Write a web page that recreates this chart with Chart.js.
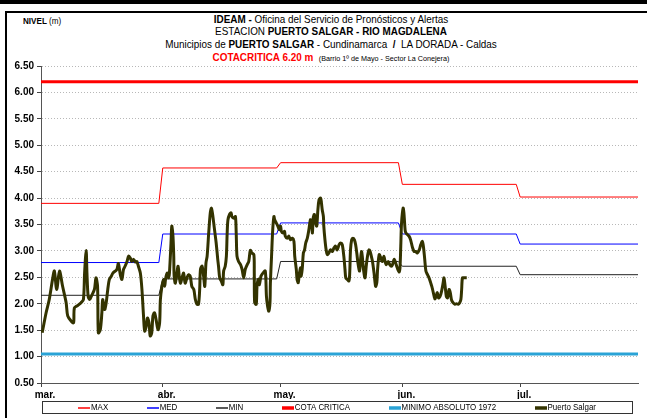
<!DOCTYPE html>
<html>
<head>
<meta charset="utf-8">
<script src="https://cdn.jsdelivr.net/npm/chart.js@4.4.1/dist/chart.umd.min.js"></script>
<style>
  body { margin: 0; background: #fff; }
  #wrap { position: relative; width: 647px; height: 418px; overflow: hidden; font-family: "Liberation Sans", Arial, sans-serif; }
  #topbar { position: absolute; left: 0; top: 0; width: 647px; height: 4px; background: #000; }
  #frame { position: absolute; left: 5px; top: 11px; width: 660px; height: 430px; border-left: 2px solid #000; border-top: 2px solid #000; }
  .t { position: absolute; left: 0; width: 662px; text-align: center; font-size: 11px; line-height: 12px; color: #000; white-space: nowrap; transform: scaleX(0.9); }
  #nivel { position: absolute; left: 23px; top: 16px; font-size: 9px; line-height: 10px; transform: scaleX(0.9); transform-origin: 0 0; }
  canvas { position: absolute; left: 0; top: 0; }
</style>
</head>
<body>
<div id="wrap">
  <div id="topbar"></div>
  <div id="frame"></div>
  <div id="nivel"><b>NIVEL</b> (m)</div>
  <div class="t" style="top:13px"><b>IDEAM - </b>Oficina del Servicio de Pronósticos y Alertas</div>
  <div class="t" style="top:25px">ESTACION <b>PUERTO SALGAR - RIO MAGDALENA</b></div>
  <div class="t" style="top:38px">Municipios de <b>PUERTO SALGAR</b> - Cundinamarca &nbsp;<b>/</b>&nbsp; LA DORADA - Caldas</div>
  <div class="t" style="top:51px"><b style="color:#ff0000">COTACRITICA 6.20 m</b> &nbsp;<span style="font-size:8px">(Barrio 1º de Mayo - Sector La Conejera)</span></div>
  <canvas id="chart" width="647" height="418"></canvas>
</div>
<script>
// x axis: days since 1 March
const monthDays = [0, 31, 61, 92, 122];
const monthLabels = ["mar.", "abr.", "may.", "jun.", "jul."];
const axisEnd = 152;
const yTicks = [0.5, 1.0, 1.5, 2.0, 2.5, 3.0, 3.5, 4.0, 4.5, 5.0, 5.5, 6.0, 6.5];

// monthly reference levels (m)
const maxLevels = [3.90, 4.57, 4.67, 4.26, 4.02];
const medLevels = [2.78, 3.32, 3.53, 3.32, 3.13];
const minLevels = [2.16, 2.47, 2.80, 2.71, 2.55];
const cotaCritica = 6.20;
const minimoAbsoluto = 1.05;

// Puerto Salgar readings
const salgarDays = [
  0.3, 1.3, 2.1, 3.0, 3.4, 4.0, 4.7, 5.5, 6.4, 6.8, 7.7, 8.3, 8.5, 9.4, 10.2, 10.8, 11.1, 11.5, 11.7, 12.0,
  12.4, 12.8, 13.6, 14.0, 14.4, 14.6, 15.1, 15.5, 15.7, 16.2, 16.6, 17.0, 17.4, 17.9, 18.3,
  19.3, 19.7, 20.2, 20.6, 21.0, 21.4, 21.9, 22.3, 22.7, 23.1, 23.6, 24.0, 24.4, 24.8, 25.3, 25.7, 26.1, 26.4,
  26.8, 27.1, 27.5, 27.8, 28.2, 28.5, 28.9, 29.3, 29.8, 30.2, 30.4, 30.8, 31.2, 31.5, 31.7, 32.1, 32.5, 32.7,
  33.1, 33.3, 33.6, 33.8, 33.9, 34.2, 34.6, 34.9, 35.2, 35.5, 35.9, 36.3, 36.7, 37.2, 37.6,
  38.0, 38.4, 38.9, 39.3, 39.7, 40.1, 40.4, 40.6, 41.0, 41.4, 41.7, 42.0, 42.3, 42.7, 43.1, 43.4, 43.7, 44.1,
  44.6, 45.0, 45.2, 45.5, 45.9, 46.3, 46.5, 46.9, 47.2, 47.4, 47.6, 48.0, 48.4, 48.6, 49.1, 49.5, 49.7, 49.9,
  50.3, 50.8, 51.2, 51.6, 52.0, 52.5, 52.9, 53.3, 53.7, 54.2, 54.3, 54.4, 54.8, 55.0, 55.3, 55.6, 56.0, 56.5, 57.1,
  57.4, 57.7, 58.0, 58.3, 58.4, 58.7, 59.0, 59.3, 59.5, 59.9, 60.3, 60.7, 61.0, 61.2, 61.6, 62.0, 62.2, 62.7,
  63.1, 63.5, 64.0, 64.4, 64.6, 65.0, 65.2, 65.5, 65.8, 66.1, 66.2, 66.5, 66.8, 67.1, 67.4, 67.8, 68.2, 68.6,
  68.9, 69.1, 69.3, 69.6, 69.9, 70.2, 70.5, 70.8, 71.2, 71.4, 71.6, 71.9, 72.0, 72.3, 72.6, 72.9, 73.3, 73.7,
  74.2, 74.6, 75.0, 75.4, 75.9, 76.3,
  76.7, 77.1, 77.4, 77.6, 78.0, 78.4, 78.6, 78.8, 79.1, 79.4, 79.8, 80.1, 80.4, 80.7, 81.1, 81.4, 81.6, 81.8,
  82.1, 82.5, 82.8, 83.2, 83.5, 83.8, 84.1, 84.4, 84.8, 85.2, 85.5, 85.7, 86.1, 86.5, 86.9, 87.3, 87.6, 87.9,
  88.4, 88.8, 89.2, 89.5, 89.9, 90.3, 90.7, 91.2, 91.4, 91.6, 91.8, 92.2, 92.4, 92.7, 92.9, 93.3, 93.7, 94.1,
  94.6, 95.0,
  95.4, 95.8, 96.3, 96.7, 97.1, 97.4, 97.7, 98.0, 98.4, 98.8, 99.2, 99.5, 99.7, 100.1, 100.3, 100.6, 100.9,
  101.2, 101.6, 102.0, 102.4, 102.6, 102.9, 103.2, 103.5, 103.9, 104.2, 104.5, 104.9, 105.4, 105.8, 106.2,
  106.6, 106.9, 107.1, 107.3, 107.7, 108.4
];
const salgarLevels = [
  1.45, 1.83, 2.08, 2.49, 2.62, 2.27, 2.62, 2.33, 2.02, 1.77, 1.67, 1.64, 1.92, 1.97, 2.02, 2.08, 2.58, 3.01, 2.58, 2.14,
  2.08, 2.14, 2.27, 2.49, 2.33, 1.45, 1.51, 1.83, 2.08, 1.89, 2.02, 2.27, 2.46, 2.52, 2.58,
  2.65, 2.76, 2.55, 2.46, 2.65, 2.71, 2.80, 2.90, 2.87, 2.80, 2.84, 2.79, 2.80, 2.71, 2.58, 2.27, 1.77, 1.48,
  1.58, 1.73, 1.64, 1.39, 1.45, 1.77, 1.83, 1.70, 1.51, 1.64, 2.08, 2.33, 2.46, 2.33, 2.46, 2.58, 2.49, 2.58,
  3.15, 3.47, 3.28, 2.90, 2.52, 2.39, 2.58, 2.71, 2.52, 2.39, 2.49, 2.58, 2.39, 2.50, 2.55,
  2.52, 2.33, 2.27, 2.08, 1.99, 1.99, 2.27, 2.65, 2.71, 2.52, 2.33, 2.77, 2.90, 3.34, 3.72, 3.81, 3.69, 3.45,
  3.15, 2.84, 2.71, 2.49, 2.43, 2.36, 2.62, 2.71, 2.90, 3.34, 3.59, 3.69, 3.72, 3.65, 3.62, 3.65, 3.34, 2.90,
  2.80, 2.74, 2.65, 2.49, 2.65, 2.74, 2.80, 3.01, 2.96, 2.93, 2.58, 2.02, 1.99, 2.33, 2.46, 2.36, 2.52, 2.58, 2.62,
  2.14, 1.95, 1.86, 2.02, 2.39, 2.90, 3.40, 3.65, 3.59, 3.53, 3.47, 3.40, 3.47, 3.37, 3.34, 3.37, 3.28, 3.24,
  3.28, 3.21, 3.24, 3.18, 2.90, 2.65, 2.46, 2.40, 2.58, 2.68, 2.52, 2.65, 2.96, 3.02, 3.15, 3.24, 3.40, 3.59,
  3.53, 3.34, 3.62, 3.69, 3.53, 3.47, 3.78, 3.97, 4.00, 3.91, 3.78, 3.65, 3.47, 3.21, 3.02, 2.93, 2.96, 3.02,
  2.99, 3.06, 3.09, 3.02, 3.12, 3.15,
  3.12, 2.90, 2.65, 2.49, 2.46, 2.43, 2.58, 3.02, 3.21, 3.24, 3.21, 3.12, 2.96, 2.77, 2.62, 2.87, 2.99, 2.90,
  2.65, 2.49, 2.71, 2.93, 3.02, 2.99, 2.90, 2.80, 2.58, 2.33, 2.40, 2.65, 2.93, 2.87, 2.80, 2.90, 2.80, 2.74,
  2.80, 2.74, 2.71, 2.74, 2.84, 2.77, 2.68, 2.60, 2.68, 3.09, 3.53, 3.81, 3.72, 3.40, 3.34, 3.31, 3.28, 3.21,
  3.06, 2.99,
  2.99, 2.96, 3.02, 3.12, 3.18, 3.06, 2.84, 2.62, 2.55, 2.49, 2.40, 2.33, 2.27, 2.14, 2.09, 2.14, 2.21,
  2.11, 2.14, 2.24, 2.40, 2.49, 2.33, 2.14, 2.11, 2.27, 2.21, 2.08, 2.02, 1.99, 2.00, 1.99,
  2.02, 2.08, 2.27, 2.49, 2.49, 2.49
];

function monthSteps(levels) {
  const pts = [];
  levels.forEach((v, i) => {
    const start = monthDays[i];
    const end = i + 1 < monthDays.length ? monthDays[i + 1] - 1 : axisEnd;
    pts.push({ x: start, y: v }, { x: end, y: v });
  });
  return pts;
}

function flat(v) {
  return [{ x: 0, y: v }, { x: axisEnd, y: v }];
}

// legend drawn inside a box below the axis, like the spreadsheet original
const boxLegend = {
  id: "boxLegend",
  afterDraw(chart) {
    const { ctx, chartArea } = chart;
    const left = Math.round(chartArea.left) + 1, right = Math.round(chartArea.right) - 6;
    const top = Math.round(chartArea.bottom) + 18, h = 12;
    const squeeze = 0.88;
    ctx.save();
    ctx.strokeStyle = "#333";
    ctx.lineWidth = 1;
    ctx.strokeRect(left + 0.5, top + 0.5, right - left, h);
    ctx.font = "9px 'Liberation Sans', Arial, sans-serif";
    ctx.textBaseline = "middle";
    const lineLen = 12, gap = 38.5;
    const items = chart.data.datasets.map(ds => ({
      label: ds.label, color: ds.borderColor, width: ds.borderWidth,
      tw: ctx.measureText(ds.label).width * squeeze
    }));
    const total = items.reduce((s, it) => s + lineLen + 1 + it.tw, 0) + gap * (items.length - 1);
    let x = Math.round((left + right) / 2 - total / 2);
    const cy = top + h / 2 + 1;
    items.forEach(it => {
      ctx.strokeStyle = it.color;
      ctx.lineWidth = Math.min(it.width + 0.5, 4);
      ctx.beginPath();
      ctx.moveTo(Math.round(x), cy);
      ctx.lineTo(Math.round(x) + lineLen, cy);
      ctx.stroke();
      ctx.save();
      ctx.translate(x + lineLen + 1, cy);
      ctx.scale(squeeze, 1);
      ctx.fillStyle = "#000";
      ctx.fillText(it.label, 0, 0);
      ctx.restore();
      x += lineLen + 1 + it.tw + gap;
    });
    ctx.restore();
  }
};

new Chart(document.getElementById("chart"), {
  type: "line",
  data: {
    datasets: [
      { label: "MAX", data: monthSteps(maxLevels), borderColor: "#ff0000", borderWidth: 1, pointRadius: 0, tension: 0 },
      { label: "MED", data: monthSteps(medLevels), borderColor: "#0000ff", borderWidth: 1, pointRadius: 0, tension: 0 },
      { label: "MIN", data: monthSteps(minLevels), borderColor: "#222222", borderWidth: 1, pointRadius: 0, tension: 0 },
      { label: "COTA CRITICA", data: flat(cotaCritica), borderColor: "#ff0000", borderWidth: 3, pointRadius: 0 },
      { label: "MINIMO ABSOLUTO 1972", data: flat(minimoAbsoluto), borderColor: "#2aa3d6", borderWidth: 3, pointRadius: 0 },
      { label: "Puerto Salgar", data: salgarDays.map((d, i) => ({ x: d, y: salgarLevels[i] })),
        borderColor: "#333300", borderWidth: 3, pointRadius: 0, tension: 0.3, order: -1 }
    ]
  },
  options: {
    responsive: false,
    animation: false,
    devicePixelRatio: 1,
    layout: { padding: { left: 0, right: 9, top: 66, bottom: 19 } },
    plugins: {
      legend: { display: false },
      title: { display: false },
      tooltip: { enabled: false }
    },
    scales: {
      x: {
        type: "linear",
        min: 0,
        max: axisEnd,
        afterFit(scale) { scale.height = 16; },
        afterBuildTicks(scale) { scale.ticks = monthDays.map(v => ({ value: v })); },
        ticks: {
          autoSkip: false,
          maxRotation: 0,
          padding: 2,
          labelOffset: 4,
          color: "#000",
          font: { family: "Liberation Sans", size: 10, weight: "bold" },
          callback: (v) => monthLabels[monthDays.indexOf(v)]
        },
        grid: { drawOnChartArea: false, drawTicks: true, tickLength: 4, tickColor: "#444" },
        border: { display: true, color: "#555", width: 1 }
      },
      y: {
        min: 0.5,
        max: 6.5,
        afterFit(scale) { scale.width = 41; },
        afterBuildTicks(scale) { scale.ticks = yTicks.map(v => ({ value: v })); },
        ticks: {
          padding: 3,
          color: "#000",
          font: { family: "Liberation Sans", size: 10, weight: "bold" },
          callback: (v) => v.toFixed(2)
        },
        grid: { color: "#b8b8b8", lineWidth: 1, tickLength: 4, tickColor: "#444" },
        border: { display: true, color: "#555", width: 1, dash: [1, 2] }
      }
    }
  },
  plugins: [boxLegend]
});
</script>
</body>
</html>
